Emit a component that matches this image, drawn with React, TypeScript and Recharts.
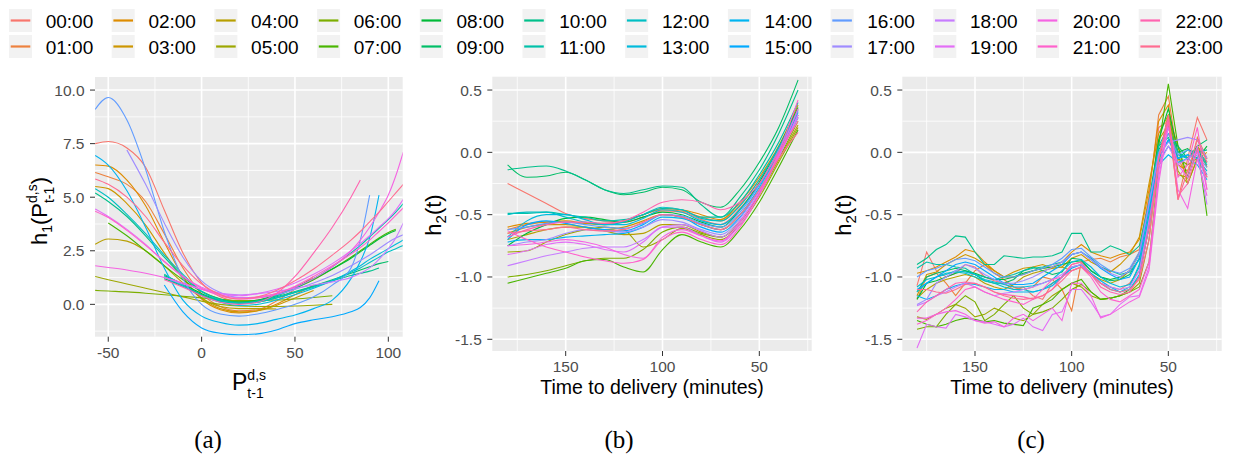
import React from 'react';
import { LineChart, Line, XAxis, YAxis, CartesianGrid } from 'recharts';

// ---------- legend / series labels ----------
const hours = ['00:00','01:00','02:00','03:00','04:00','05:00','06:00','07:00','08:00','09:00','10:00','11:00','12:00','13:00','14:00','15:00','16:00','17:00','18:00','19:00','20:00','21:00','22:00','23:00'];

// ---------- panel (a) ----------
const xA = [-57,-50,-40,-30,-20,-10,0,10,20,30,40,50,60,70,80,85,90,95,100,104,108];
const _ = null;
const valsA: (number|null)[][] = [
  [7.5,7.6,7.3,6.4,4.4,2.4,1.0,0.35,0.15,0.2,0.45,0.8,1.2,_,_,_,_,_,_,_,_],
  [6.15,5.95,5.6,4.8,3.3,1.7,0.5,-0.1,-0.3,-0.25,0.15,0.7,1.3,_,_,_,_,_,_,_,_],
  [6.5,6.45,5.8,4.6,2.9,1.3,0.25,-0.25,-0.4,-0.3,0.0,0.45,0.9,_,_,_,_,_,_,_,_],
  [5.5,5.4,4.7,3.7,2.4,1.2,0.3,-0.2,-0.35,-0.3,-0.05,0.3,0.65,_,_,_,_,_,_,_,_],
  [2.8,3.05,2.95,2.5,1.8,1.0,0.3,-0.1,-0.2,-0.2,-0.22,_,_,_,_,_,_,_,_,_,_],
  [1.3,1.15,0.95,0.75,0.55,0.35,0.15,0.0,-0.08,-0.1,-0.1,-0.08,-0.04,0.0,_,_,_,_,_,_,_],
  [0.65,0.62,0.58,0.52,0.45,0.38,0.3,0.22,0.18,0.18,0.2,0.25,0.32,0.4,_,_,_,_,_,_,_],
  [_,3.8,3.2,2.5,1.8,1.15,0.6,0.25,0.12,0.18,0.4,0.75,1.15,1.65,2.2,2.5,2.8,3.1,3.35,3.5,_],
  [_,_,_,_,1.35,0.95,0.5,0.2,0.1,0.2,0.45,0.8,1.2,1.65,2.15,2.45,2.75,3.05,3.3,3.45,_],
  [_,_,_,_,1.2,0.85,0.45,0.15,0.05,0.1,0.3,0.55,0.85,1.15,1.45,1.6,1.75,1.9,2.0,_,_],
  [5.2,4.8,4.1,3.2,2.2,1.3,0.6,0.25,0.1,0.15,0.35,0.6,0.85,1.1,1.35,1.45,1.55,1.7,_,_,_],
  [_,_,_,_,1.4,0.9,0.45,0.15,0.05,0.15,0.4,0.75,1.2,1.75,2.4,2.75,3.15,3.55,3.95,4.3,4.7],
  [5.4,5.0,4.2,3.3,2.3,1.4,0.6,0.2,0.05,0.1,0.3,0.55,0.8,1.1,1.5,1.7,1.95,2.2,2.45,2.6,2.75],
  [_,_,_,_,1.3,0.85,0.4,0.1,-0.05,0.0,0.2,0.45,0.75,1.1,1.55,1.8,2.1,2.35,2.6,2.8,3.0],
  [6.95,6.5,5.3,3.6,1.7,0.2,-0.55,-0.85,-0.97,-0.9,-0.7,-0.5,-0.2,0.2,1.2,2.0,3.1,5.1,_,_,_],
  [_,_,_,_,0.9,-0.35,-1.1,-1.35,-1.42,-1.38,-1.2,-0.9,-0.72,-0.58,-0.35,-0.15,0.3,1.1,_,_,_],
  [9.1,9.65,8.6,6.3,3.4,1.2,0.0,-0.45,-0.55,-0.45,-0.25,0.0,0.35,0.9,1.7,3.0,5.1,_,_,_,_],
  [_,_,7.2,5.6,3.8,2.2,1.1,0.55,0.32,0.32,0.45,0.7,1.0,1.35,1.8,2.05,2.3,2.6,2.9,3.1,3.25],
  [_,_,_,_,1.25,0.95,0.7,0.52,0.45,0.5,0.6,0.75,0.9,1.05,1.25,1.45,1.7,2.1,2.6,3.1,3.8],
  [4.45,4.1,3.5,2.8,2.0,1.3,0.8,0.5,0.4,0.5,0.7,1.0,1.4,1.9,2.5,2.85,3.2,3.6,4.0,4.4,4.9],
  [1.8,1.72,1.6,1.45,1.25,1.0,0.7,0.45,0.3,0.35,0.5,0.8,1.2,1.75,2.5,3.0,3.6,4.3,5.1,6.0,7.1],
  [4.35,4.05,3.45,2.75,2.0,1.3,0.75,0.4,0.25,0.3,0.5,0.85,1.3,1.8,2.35,2.65,3.0,3.4,3.8,4.15,4.5],
  [_,_,_,_,1.15,0.8,0.4,0.1,0.0,0.1,0.5,1.3,2.4,3.6,5.0,5.8,_,_,_,_,_],
  [5.85,5.6,5.0,4.1,2.9,1.8,0.95,0.45,0.25,0.35,0.65,1.1,1.65,2.3,3.0,3.4,3.85,4.3,4.8,5.2,5.6],
];

// ---------- panel (b) ----------
const xB = [180,170,160,150,140,130,120,110,100,90,80,70,60,50,40,30];
const valsB: number[][] = [
  [-0.25,-0.33,-0.41,-0.49,-0.53,-0.55,-0.56,-0.52,-0.47,-0.48,-0.54,-0.58,-0.45,-0.25,0.00,0.30],
  [-0.62,-0.58,-0.56,-0.56,-0.57,-0.57,-0.55,-0.50,-0.46,-0.47,-0.52,-0.55,-0.42,-0.22,0.03,0.35],
  [-0.60,-0.57,-0.56,-0.55,-0.57,-0.58,-0.55,-0.50,-0.45,-0.46,-0.50,-0.54,-0.40,-0.20,0.05,0.38],
  [-0.65,-0.60,-0.58,-0.58,-0.60,-0.62,-0.60,-0.55,-0.50,-0.52,-0.58,-0.62,-0.50,-0.30,-0.02,0.28],
  [-0.70,-0.66,-0.62,-0.60,-0.60,-0.63,-0.66,-0.65,-0.58,-0.58,-0.64,-0.68,-0.56,-0.34,-0.06,0.22],
  [-0.80,-0.79,-0.72,-0.66,-0.62,-0.60,-0.62,-0.76,-0.70,-0.61,-0.66,-0.70,-0.58,-0.36,-0.08,0.20],
  [-1.00,-0.98,-0.95,-0.91,-0.87,-0.85,-0.85,-0.78,-0.64,-0.60,-0.65,-0.68,-0.55,-0.33,-0.05,0.25],
  [-1.05,-1.01,-0.97,-0.93,-0.87,-0.86,-0.92,-0.96,-0.78,-0.66,-0.72,-0.76,-0.62,-0.40,-0.12,0.18],
  [-0.75,-0.65,-0.58,-0.53,-0.52,-0.54,-0.56,-0.52,-0.48,-0.50,-0.56,-0.60,-0.46,-0.24,0.04,0.36],
  [-0.10,-0.20,-0.19,-0.16,-0.22,-0.30,-0.34,-0.32,-0.28,-0.30,-0.40,-0.44,-0.30,-0.08,0.20,0.58],
  [-0.14,-0.12,-0.11,-0.15,-0.22,-0.30,-0.33,-0.30,-0.27,-0.28,-0.42,-0.52,-0.36,-0.14,0.15,0.50],
  [-0.49,-0.49,-0.48,-0.50,-0.52,-0.55,-0.54,-0.50,-0.45,-0.46,-0.52,-0.52,-0.40,-0.18,0.08,0.40],
  [-0.50,-0.48,-0.48,-0.52,-0.56,-0.58,-0.56,-0.50,-0.44,-0.46,-0.53,-0.55,-0.43,-0.22,0.04,0.34],
  [-0.68,-0.55,-0.50,-0.50,-0.54,-0.58,-0.58,-0.53,-0.46,-0.48,-0.55,-0.58,-0.46,-0.26,0.00,0.32],
  [-0.72,-0.70,-0.70,-0.68,-0.67,-0.66,-0.65,-0.60,-0.52,-0.53,-0.58,-0.62,-0.50,-0.28,0.00,0.30],
  [-0.70,-0.58,-0.55,-0.57,-0.60,-0.62,-0.63,-0.58,-0.50,-0.52,-0.60,-0.64,-0.52,-0.30,-0.02,0.28],
  [-0.62,-0.60,-0.57,-0.56,-0.58,-0.60,-0.61,-0.57,-0.50,-0.51,-0.57,-0.60,-0.48,-0.26,0.02,0.33],
  [-0.75,-0.72,-0.70,-0.65,-0.62,-0.63,-0.64,-0.60,-0.54,-0.56,-0.62,-0.66,-0.53,-0.30,-0.02,0.30],
  [-0.91,-0.87,-0.83,-0.80,-0.77,-0.76,-0.76,-0.70,-0.60,-0.58,-0.63,-0.68,-0.55,-0.32,-0.03,0.28],
  [-0.82,-0.79,-0.74,-0.72,-0.74,-0.78,-0.80,-0.72,-0.60,-0.60,-0.67,-0.72,-0.58,-0.34,-0.04,0.30],
  [-0.75,-0.74,-0.72,-0.70,-0.72,-0.76,-0.82,-0.85,-0.68,-0.62,-0.67,-0.71,-0.56,-0.32,-0.02,0.35],
  [-0.63,-0.70,-0.76,-0.80,-0.84,-0.87,-0.89,-0.86,-0.70,-0.64,-0.70,-0.74,-0.60,-0.34,0.00,0.42],
  [-0.68,-0.62,-0.58,-0.56,-0.56,-0.57,-0.55,-0.48,-0.40,-0.38,-0.40,-0.46,-0.40,-0.25,0.00,0.25],
  [-0.65,-0.63,-0.62,-0.60,-0.62,-0.63,-0.62,-0.56,-0.50,-0.52,-0.58,-0.62,-0.50,-0.30,-0.05,0.16],
];

// ---------- panel (c) ----------
const xC = [180,175,170,165,160,155,150,145,140,135,130,125,120,115,110,105,100,95,90,85,80,75,70,65,60,55,50,45,40,35,30];
const valsC: number[][] = [
  [-1.07,-0.80,-0.95,-1.00,-0.97,-0.90,-0.92,-1.00,-1.03,-1.05,-1.10,-1.08,-1.15,-1.18,-1.05,-1.00,-0.90,-0.88,-0.98,-1.05,-1.08,-1.10,-1.05,-0.95,-0.55,0.20,0.25,-0.38,-0.05,0.28,0.10],
  [-1.18,-1.00,-0.97,-1.05,-1.15,-1.05,-0.95,-0.90,-0.97,-1.02,-1.08,-1.10,-1.08,-1.00,-1.02,-1.10,-1.27,-0.88,-0.86,-0.85,-0.88,-0.84,-0.82,-0.78,-0.35,0.30,0.45,-0.05,-0.20,0.12,-0.05],
  [-0.97,-0.95,-0.92,-0.88,-0.84,-0.78,-0.80,-0.88,-0.95,-1.00,-1.00,-0.98,-0.95,-0.93,-0.92,-0.88,-0.80,-0.74,-0.80,-0.83,-0.85,-0.82,-0.80,-0.70,-0.30,0.25,0.38,-0.10,-0.15,0.05,-0.05],
  [-1.15,-0.98,-0.96,-0.90,-0.86,-0.82,-0.85,-0.90,-0.95,-1.00,-0.96,-0.93,-0.92,-0.90,-0.93,-0.92,-0.85,-0.82,-0.88,-0.92,-0.96,-0.90,-0.82,-0.68,-0.25,0.15,0.30,0.05,-0.25,-0.05,0.00],
  [-1.17,-1.10,-1.05,-1.02,-1.00,-0.98,-1.00,-1.05,-1.08,-1.10,-1.06,-1.00,-0.97,-0.95,-0.93,-0.92,-0.95,-0.92,-0.98,-1.02,-1.05,-1.02,-0.95,-0.80,-0.45,0.10,0.22,-0.18,-0.20,0.05,-0.12],
  [-1.32,-1.34,-1.30,-1.25,-1.22,-1.25,-1.32,-1.30,-1.25,-1.28,-1.33,-1.35,-1.30,-1.22,-1.15,-1.10,-1.05,-1.08,-1.15,-1.18,-1.17,-1.15,-1.12,-1.05,-0.70,-0.05,0.30,-0.15,-0.25,-0.05,-0.20],
  [-1.42,-1.40,-1.40,-1.30,-1.22,-1.15,-1.20,-1.35,-1.30,-1.22,-1.15,-1.25,-1.30,-1.28,-1.25,-1.18,-1.10,-1.06,-1.12,-1.18,-1.17,-1.15,-1.12,-1.08,-0.88,-0.10,0.30,-0.05,-0.10,-0.05,-0.08],
  [-1.35,-1.38,-1.40,-1.38,-1.35,-1.33,-1.34,-1.36,-1.35,-1.37,-1.38,-1.39,-1.25,-1.22,-1.18,-1.10,-1.05,-1.02,-1.12,-1.18,-1.17,-1.15,-1.10,-1.00,-0.60,0.05,0.55,0.05,-0.20,0.05,-0.51],
  [-1.18,-1.05,-1.03,-1.00,-0.97,-0.95,-0.97,-1.00,-1.02,-1.02,-1.00,-0.97,-0.95,-0.93,-0.92,-0.90,-0.88,-0.87,-0.95,-1.00,-1.02,-1.00,-0.95,-0.82,-0.40,0.10,0.35,0.00,0.03,-0.05,0.05],
  [-1.12,-1.00,-0.97,-0.95,-0.93,-0.95,-0.98,-1.03,-1.05,-1.05,-1.02,-0.95,-0.92,-0.95,-0.98,-0.96,-0.85,-0.86,-0.95,-1.00,-1.03,-1.02,-0.98,-0.85,-0.45,0.02,0.15,0.05,-0.05,0.05,0.10],
  [-0.90,-0.85,-0.78,-0.74,-0.67,-0.68,-0.80,-0.90,-0.90,-0.83,-0.84,-0.85,-0.84,-0.84,-0.83,-0.80,-0.65,-0.65,-0.80,-0.80,-0.75,-0.78,-0.82,-0.75,-0.40,0.05,0.12,-0.05,0.02,0.00,0.02],
  [-0.93,-0.88,-0.90,-0.90,-0.92,-0.93,-0.98,-1.00,-1.02,-1.00,-0.98,-0.95,-0.93,-0.92,-0.90,-0.88,-0.82,-0.80,-0.85,-0.92,-0.95,-0.98,-0.96,-0.86,-0.42,0.05,0.20,0.00,-0.05,0.02,-0.08],
  [-1.08,-1.02,-1.00,-0.97,-0.96,-0.97,-1.00,-1.03,-1.05,-1.08,-1.10,-1.10,-1.12,-1.10,-1.05,-1.00,-0.92,-0.90,-0.98,-1.05,-1.10,-1.12,-1.08,-0.90,-0.50,-0.05,0.10,-0.02,-0.05,0.00,-0.10],
  [-1.12,-1.05,-1.00,-0.98,-0.95,-0.96,-0.98,-1.02,-1.04,-1.06,-1.08,-1.08,-1.07,-1.05,-1.02,-0.95,-0.88,-0.86,-0.92,-1.00,-1.05,-1.08,-1.06,-0.92,-0.52,-0.08,0.05,-0.05,-0.02,-0.05,-0.15],
  [-1.15,-1.18,-1.15,-1.10,-1.07,-1.05,-1.06,-1.08,-1.10,-1.10,-1.12,-1.12,-1.12,-1.10,-1.07,-1.00,-0.93,-0.90,-0.97,-1.03,-1.08,-1.12,-1.10,-0.98,-0.60,-0.10,-0.02,-0.08,-0.05,-0.10,-0.22],
  [-1.10,-1.05,-1.00,-0.95,-0.90,-0.88,-0.90,-0.95,-1.00,-1.05,-1.06,-1.06,-1.05,-1.00,-0.95,-0.90,-0.82,-0.80,-0.86,-0.93,-0.98,-1.02,-1.00,-0.85,-0.45,-0.05,0.10,-0.05,-0.02,-0.05,-0.18],
  [-1.00,-0.95,-0.93,-0.90,-0.86,-0.85,-0.87,-0.92,-0.97,-1.00,-1.00,-0.98,-0.95,-0.93,-0.90,-0.85,-0.78,-0.77,-0.84,-0.90,-0.95,-0.97,-0.93,-0.80,-0.40,0.00,0.15,-0.02,0.02,-0.03,-0.12],
  [-1.22,-1.18,-1.05,-1.00,-0.95,-0.90,-0.93,-0.98,-1.02,-1.05,-1.05,-1.03,-1.00,-0.96,-0.92,-0.88,-0.82,-0.80,-0.86,-0.92,-0.97,-1.00,-0.95,-0.82,-0.42,-0.02,0.08,0.10,0.12,0.10,-0.05],
  [-1.23,-1.20,-1.15,-1.12,-1.08,-1.05,-1.08,-1.12,-1.15,-1.13,-1.12,-1.10,-1.08,-1.05,-1.02,-0.98,-0.92,-0.90,-0.98,-1.05,-1.08,-1.10,-1.08,-0.95,-0.55,-0.10,0.05,-0.10,-0.05,0.00,-0.42],
  [-1.57,-1.38,-1.40,-1.41,-1.30,-1.32,-1.35,-1.36,-1.38,-1.40,-1.38,-1.33,-1.40,-1.43,-1.30,-1.28,-1.10,-1.10,-1.20,-1.32,-1.30,-1.22,-1.16,-1.15,-0.92,-0.20,0.20,-0.10,-0.20,0.05,-0.30],
  [-1.33,-1.33,-1.30,-1.28,-1.27,-1.30,-1.35,-1.37,-1.36,-1.40,-1.33,-1.30,-1.35,-1.30,-1.25,-1.35,-1.05,-1.05,-1.15,-1.33,-1.30,-1.25,-1.20,-1.16,-0.95,-0.25,0.25,-0.30,-0.45,-0.05,-0.35],
  [-1.38,-1.35,-1.30,-1.25,-1.18,-1.10,-1.08,-1.12,-1.15,-1.18,-1.20,-1.22,-1.18,-1.10,-1.02,-1.00,-0.95,-0.92,-1.00,-1.12,-1.18,-1.20,-1.15,-1.10,-0.88,-0.15,0.28,-0.20,-0.10,0.20,-0.30],
  [-1.28,-1.20,-1.15,-1.10,-1.05,-1.04,-1.05,-1.08,-1.12,-1.14,-1.15,-1.16,-1.18,-1.15,-1.10,-1.00,-0.90,-0.88,-0.98,-1.08,-1.12,-1.14,-1.12,-1.00,-0.60,-0.05,0.25,-0.35,-0.25,0.02,-0.20],
  [-1.10,-1.10,-1.12,-1.13,-1.10,-1.06,-1.05,-1.08,-1.12,-1.15,-1.17,-1.18,-1.17,-1.15,-1.10,-1.03,-0.95,-0.92,-0.98,-1.05,-1.10,-1.12,-1.10,-1.02,-0.70,-0.05,0.30,-0.38,-0.15,0.10,-0.08],
];

// ---------- axis ticks ----------
const ticksAX = [-50, 0, 50, 100];
const minorAX = [-25, 25, 75];
const ticksAY = [0, 2.5, 5, 7.5, 10];
const minorAY = [-1.25, 1.25, 3.75, 6.25, 8.75];
const ticksBX = [150, 100, 50];
const minorBX = [175, 125, 75, 25];
const ticksBY = [-1.5, -1, -0.5, 0, 0.5];
const minorBY = [-1.25, -0.75, -0.25, 0.25];

// ggplot2 default hue palette (hcl, c=100, l=65)
function hcl(h: number, c = 100, l = 65): string {
  const hr = (h * Math.PI) / 180;
  const U = c * Math.cos(hr), V = c * Math.sin(hr);
  const Xn = 95.047, Yn = 100, Zn = 108.883;
  const den = Xn + 15 * Yn + 3 * Zn;
  const un = (4 * Xn) / den, vn = (9 * Yn) / den;
  const Y = Yn * Math.pow((l + 16) / 116, 3);
  const u = U / (13 * l) + un, v = V / (13 * l) + vn;
  const X = (Y * 9 * u) / (4 * v);
  const Z = (Y * (12 - 3 * u - 20 * v)) / (4 * v);
  const x = X / 100, y = Y / 100, z = Z / 100;
  const lin = [
    3.240479 * x - 1.53715 * y - 0.498535 * z,
    -0.969256 * x + 1.875992 * y + 0.041556 * z,
    0.055648 * x - 0.204043 * y + 1.057311 * z,
  ];
  const g = (t: number) => {
    const s = t <= 0.0031308 ? 12.92 * t : 1.055 * Math.pow(t, 1 / 2.4) - 0.055;
    return Math.round(Math.max(0, Math.min(1, s)) * 255);
  };
  return '#' + lin.map(g).map((n) => n.toString(16).padStart(2, '0')).join('');
}
const colors = hours.map((_h, i) => hcl(15 + 15 * i));
const keys = hours.map((_h, i) => 'h' + i);

function buildRows(xs: number[], vals: (number | null)[][]) {
  return xs.map((x, i) => {
    const r: Record<string, number | null> = { x };
    keys.forEach((k, j) => { r[k] = vals[j][i]; });
    return r;
  });
}
const dataA = buildRows(xA, valsA);
const dataB = buildRows(xB, valsB);
const dataC = buildRows(xC, valsC);

const SANS = '"Liberation Sans", Arial, Helvetica, sans-serif';
const SERIF = '"Liberation Serif", "Times New Roman", serif';
const tickStyle = { fill: '#4D4D4D', fontSize: 15.5, fontFamily: SANS };

type PanelProps = {
  left: number; width: number; height: number;
  margin: { top: number; right: number; bottom: number; left: number };
  data: any[]; xDomain: number[]; yDomain: number[];
  xTicks: number[]; xMinor: number[]; yTicks: number[]; yMinor: number[];
  reversed?: boolean; curve: 'monotone' | 'linear';
};

function Panel(p: PanelProps) {
  return (
    <div style={{ position: 'absolute', left: p.left, top: 0, width: p.width, height: p.height }}>
      <LineChart width={p.width} height={p.height} data={p.data} margin={p.margin}>
        <CartesianGrid fill="#EBEBEB" stroke="#FFFFFF" strokeWidth={0.8} verticalValues={p.xMinor} horizontalValues={p.yMinor} />
        <CartesianGrid stroke="#FFFFFF" strokeWidth={1.6} verticalValues={p.xTicks} horizontalValues={p.yTicks} />
        <XAxis type="number" dataKey="x" domain={p.xDomain as any} allowDataOverflow reversed={p.reversed}
          ticks={p.xTicks} interval={0} axisLine={false} tickLine={{ stroke: '#333333' }} tickSize={5} tickMargin={5}
          height={30} tick={tickStyle} />
        <YAxis type="number" domain={p.yDomain as any} allowDataOverflow ticks={p.yTicks} interval={0}
          axisLine={false} tickLine={{ stroke: '#333333' }} tickSize={5} tickMargin={5.5} width={60}
          tick={tickStyle} tickFormatter={(v: number) => v.toFixed(1)} />
        {keys.map((k, i) => (
          <Line key={k} dataKey={k} stroke={colors[i]} strokeWidth={1.1} dot={false} activeDot={false}
            type={p.curve} isAnimationActive={false} connectNulls={false} />
        ))}
      </LineChart>
    </div>
  );
}

function Legend() {
  return (
    <g>
      {hours.map((h, i) => {
        const col = Math.floor(i / 2), row = i % 2;
        const x = 9 + col * 102.7, y = 9 + row * 26;
        return (
          <g key={h}>
            <rect x={x} y={y} width={23} height={23} fill="#F2F2F2" />
            <line x1={x + 1.7} x2={x + 21.3} y1={y + 11.5} y2={y + 11.5} stroke={colors[i]} strokeWidth={2.2} />
            <text x={x + 36.7} y={y + 19.2} fontSize={19} fontFamily={SANS} fill="#000">{h}</text>
          </g>
        );
      })}
    </g>
  );
}

export default function App() {
  return (
    <div style={{ position: 'absolute', left: 0, top: 0, width: 1237, height: 456, background: '#fff', overflow: 'hidden' }}>
      <Panel left={0} width={412} height={410} margin={{ top: 77, right: 9.3, bottom: 43.3, left: 35 }}
        data={dataA} xDomain={[-57.1, 107.7]} yDomain={[-1.51, 10.61]}
        xTicks={ticksAX} xMinor={minorAX} yTicks={ticksAY} yMinor={minorAY} curve="monotone" />
      <Panel left={412} width={412} height={410} margin={{ top: 76.7, right: 12.3, bottom: 29, left: 20.3 }}
        data={dataB} xDomain={[22.95, 187.9]} yDomain={[-1.594, 0.607]} reversed
        xTicks={ticksBX} xMinor={minorBX} yTicks={ticksBY} yMinor={minorBY} curve="monotone" />
      <Panel left={824} width={413} height={410} margin={{ top: 76.7, right: 15.3, bottom: 29, left: 18.3 }}
        data={dataC} xDomain={[22.4, 187.6]} yDomain={[-1.594, 0.607]} reversed
        xTicks={ticksBX} xMinor={minorBX} yTicks={ticksBY} yMinor={minorBY} curve="linear" />
      <svg width={1237} height={456} style={{ position: 'absolute', left: 0, top: 0, pointerEvents: 'none' }}>
        <Legend />
        {/* panel (a) titles */}
        <text transform="translate(47,211) rotate(-90)" textAnchor="middle" fontSize={22} fontFamily={SANS} fill="#000">
          h<tspan dy={5} fontSize={14}>1</tspan><tspan dy={-5}>(P</tspan><tspan dy={-10} fontSize={14}>d,s</tspan><tspan dx={-18.7} dy={17} fontSize={14}>t-1</tspan><tspan dx={2.4} dy={-7}>)</tspan>
        </text>
        <text x={232} y={390} fontSize={23} fontFamily={SANS} fill="#000">
          P<tspan dy={-10} fontSize={14}>d,s</tspan><tspan dx={-18.7} dy={17.5} fontSize={14}>t-1</tspan>
        </text>
        {/* panel (b) titles */}
        <text transform="translate(441,215) rotate(-90)" textAnchor="middle" fontSize={22} fontFamily={SANS} fill="#000">
          h<tspan dy={5} fontSize={15}>2</tspan><tspan dy={-5}>(t)</tspan>
        </text>
        <text x={652} y={394} textAnchor="middle" fontSize={19.5} fontFamily={SANS} fill="#000">Time to delivery (minutes)</text>
        {/* panel (c) titles */}
        <text transform="translate(851,215) rotate(-90)" textAnchor="middle" fontSize={22} fontFamily={SANS} fill="#000">
          h<tspan dy={5} fontSize={15}>2</tspan><tspan dy={-5}>(t)</tspan>
        </text>
        <text x={1062} y={394} textAnchor="middle" fontSize={19.5} fontFamily={SANS} fill="#000">Time to delivery (minutes)</text>
        {/* captions */}
        <text x={208} y={448} textAnchor="middle" fontSize={25} fontFamily={SERIF} fill="#000">(a)</text>
        <text x={619} y={448} textAnchor="middle" fontSize={25} fontFamily={SERIF} fill="#000">(b)</text>
        <text x={1031} y={448} textAnchor="middle" fontSize={25} fontFamily={SERIF} fill="#000">(c)</text>
      </svg>
    </div>
  );
}
